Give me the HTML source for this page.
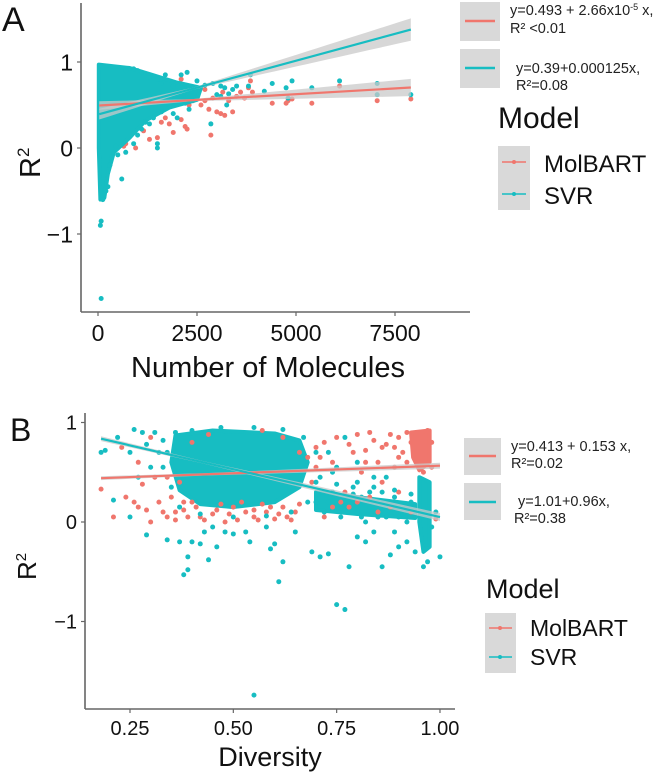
<!DOCTYPE html>
<html><head><meta charset="utf-8">
<style>
html,body{margin:0;padding:0;background:#fff;}
body{width:666px;height:779px;overflow:hidden;font-family:"Liberation Sans",sans-serif;}
svg text{font-family:"Liberation Sans",sans-serif;}
</style></head>
<body>
<svg id="chart" width="666" height="779" viewBox="0 0 666 779">
<g id="gA"></g>
<g id="gB"></g>
</svg>
<script>
const RED="#F0766D", TEAL="#17BDC2", BAND="#C9C9C9";
// ---------- Panel A data ----------
const aXTicks=[0,2500,5000,7500];
const aYTicks=[-1,0,1];
const aRedPts=[[1000,0.38],[1100,0.4],[1200,0.35],[1300,0.1],[1500,0.12],[1600,0.3],[1700,0.35],[1800,0.28],[1900,0.18],[2000,0.52],[2100,0.33],[2200,0.25],[2250,0.22],[2300,0.5],[2400,0.55],[2500,0.6],[2600,0.5],[2700,0.55],[2800,0.45],[2850,0.15],[2900,0.58],[3000,0.42],[3100,0.4],[3150,0.65],[3200,0.38],[3300,0.55],[3400,0.42],[3500,0.6],[3600,0.65],[3700,0.58],[3800,0.7],[3850,0.78],[3900,0.65],[4400,0.52],[4750,0.52],[4800,0.55],[4900,0.57],[5400,0.52],[6100,0.72],[7050,0.55],[7900,0.57],[600,0.15],[700,0.05],[800,0.2],[900,0.35],[500,0.0],[400,0.1],[1400,0.45],[2100,0.8],[2700,0.68],[1250,0.55],[1700,0.55],[2200,0.62],[1150,0.2],[650,0.02],[950,0.0]];
const aTealPts=[[600,-0.36],[80,-0.85],[60,-0.9],[80,-1.75],[1500,0.0],[1500,0.05],[1700,0.85],[2100,0.85],[2250,0.88],[2500,0.78],[2700,0.73],[2850,0.28],[2900,0.75],[3000,0.62],[3100,0.72],[3200,0.7],[3250,0.5],[3300,0.63],[3500,0.72],[3800,0.72],[3850,0.85],[4200,0.66],[4400,0.75],[4750,0.7],[4800,0.58],[4900,0.78],[5400,0.7],[6100,0.78],[7050,0.75],[7050,0.62],[7900,0.62],[1800,0.5],[1300,0.6],[2300,0.45],[350,-0.1],[250,-0.45],[150,-0.55],[120,-0.6],[1000,0.15],[1200,0.3],[1900,0.4],[2000,0.35],[2400,0.6],[1600,0.75],[900,0.92],[700,0.9],[1400,0.35],[1450,0.5],[2200,0.52],[3100,0.6],[3400,0.68],
 [1100,0.88],[1300,0.82],[1500,0.8],[1900,0.72],[2300,0.72],[900,0.05],[1100,0.22],[1300,0.28],[1600,0.42],[700,-0.05],[500,-0.08],[300,-0.2],[200,-0.5],[450,0.02],[1000,0.9]];
const aTealDense=[[20,0.97],[800,0.93],[1300,0.86],[2000,0.76],[2600,0.7],[2500,0.56],[1800,0.47],[1200,0.32],[800,0.12],[400,-0.05],[250,-0.3],[160,-0.58],[60,-0.6],[20,0]];
const aFitIntercept=[0.493,0.39];
const aFitSlope=[2.66e-5,0.000125];
const aFitRange=[30,7900];
const aBandHalf=[[0.012,0.1],[0.012,0.13]];
// ---------- Panel B data ----------
const bXTicks=[0.25,0.5,0.75,1.0];
const bXLabels=["0.25","0.50","0.75","1.00"];
const bYTicks=[-1,0,1];
const bRedPts=[[0.18,0.33],[0.21,0.05],[0.23,0.75],[0.24,0.25],[0.26,0.2],[0.27,0.15],[0.28,0.38],[0.29,0.12],[0.3,0.0],[0.31,0.45],[0.32,0.2],[0.33,0.1],[0.34,0.05],[0.3,0.85],[0.27,0.6],[0.36,0.02],[0.38,0.12],[0.4,0.2],[0.42,0.05],[0.45,0.08],[0.48,0.0],[0.5,0.15],[0.52,0.2],[0.55,0.05],[0.58,0.1],[0.6,0.03],[0.62,0.15],[0.65,0.1],[0.57,0.92],[0.62,0.85],[0.66,0.7],[0.7,0.55],[0.72,0.8],[0.74,0.6],[0.75,0.85],[0.77,0.3],[0.78,0.15],[0.8,0.88],[0.81,0.5],[0.82,0.72],[0.83,0.25],[0.84,0.82],[0.85,0.6],[0.86,0.4],[0.87,0.78],[0.88,0.88],[0.89,0.55],[0.9,0.85],[0.91,0.7],[0.92,0.9],[0.93,0.8],[0.94,0.65],[0.95,0.9],[0.95,0.75],[0.96,0.85],[0.96,0.6],[0.97,0.92],[0.97,0.7],[0.98,0.8],[0.98,0.55],[0.96,0.5],[0.94,0.88],[0.99,0.03],[0.72,0.05],[0.76,0.2],[0.85,0.1],[0.9,0.3],[0.68,0.65],[0.69,0.4],[0.44,0.88],[0.4,0.8],[0.35,0.25],[0.37,0.4],[0.55,0.12],[0.63,0.05],[0.79,0.7],[0.83,0.9],[0.89,0.75],[0.92,0.6],
 [0.36,0.1],[0.39,0.05],[0.41,0.15],[0.43,0.02],[0.46,0.12],[0.49,0.08],[0.51,0.02],[0.53,0.1],[0.56,0.02],[0.59,0.15],[0.61,0.08],[0.64,0.02],[0.38,0.2],[0.47,0.18],[0.57,0.18],[0.66,0.18],[0.34,0.45],[0.7,0.75],[0.71,0.65],[0.78,0.78],[0.82,0.6],[0.86,0.75],[0.9,0.65],[0.74,0.15],[0.8,0.2],[0.88,0.15],[0.93,0.1]];
const bTealPts=[[0.18,0.7],[0.19,0.72],[0.21,0.22],[0.22,0.85],[0.25,0.05],[0.25,0.7],[0.26,0.93],[0.28,0.9],[0.29,0.78],[0.29,-0.13],[0.3,0.55],[0.32,0.7],[0.34,-0.18],[0.37,-0.2],[0.38,-0.53],[0.39,-0.48],[0.39,-0.35],[0.4,-0.2],[0.42,-0.22],[0.43,-0.1],[0.44,-0.38],[0.45,-0.05],[0.46,-0.25],[0.48,-0.1],[0.5,-0.12],[0.53,-0.1],[0.54,-0.2],[0.55,-1.74],[0.58,-0.05],[0.59,-0.27],[0.6,-0.22],[0.61,-0.6],[0.62,-0.4],[0.65,-0.1],[0.69,-0.3],[0.71,-0.35],[0.73,-0.32],[0.75,-0.83],[0.77,-0.88],[0.78,-0.45],[0.8,-0.15],[0.82,-0.2],[0.84,-0.1],[0.86,-0.45],[0.88,-0.33],[0.89,-0.1],[0.9,-0.25],[0.92,-0.2],[0.94,-0.3],[0.96,-0.45],[0.97,-0.4],[1.0,-0.35],[0.72,0.1],[0.74,0.3],[0.75,0.55],[0.76,0.05],[0.78,0.2],[0.79,0.35],[0.8,0.1],[0.81,0.25],[0.82,0.0],[0.83,0.15],[0.84,0.35],[0.85,0.05],[0.86,0.2],[0.87,0.45],[0.88,0.1],[0.89,0.25],[0.9,0.05],[0.91,0.15],[0.92,0.0],[0.93,0.2],[0.77,0.85],[0.73,0.7],[0.8,0.6],[0.99,0.1],[0.98,-0.05],[0.7,0.2],[0.71,0.45],[0.33,0.82],[0.31,0.9],[0.27,0.45],[0.74,0.5],[0.86,0.3],
 [0.34,0.7],[0.33,0.55],[0.35,0.35],[0.37,0.15],[0.42,0.08],[0.5,0.05],[0.58,0.06],[0.64,0.1],[0.68,0.2],[0.7,0.4],[0.7,0.7],[0.67,0.85],[0.62,0.93],[0.55,0.95],[0.47,0.95],[0.4,0.92],[0.36,0.9],[0.73,0.2],[0.75,0.38],[0.77,0.12],[0.79,0.28],[0.81,0.05],[0.83,0.3],[0.85,0.2],[0.87,0.05],[0.89,0.32],[0.91,0.08],[0.93,0.28],[0.94,0.05],[0.72,0.3],[0.76,0.25],[0.8,0.4],[0.84,0.45]];
const bTealDense=[[[0.36,0.87],[0.45,0.92],[0.6,0.89],[0.66,0.82],[0.68,0.6],[0.66,0.35],[0.6,0.2],[0.5,0.15],[0.42,0.18],[0.37,0.32],[0.35,0.6]],
 [[0.95,0.45],[0.975,0.4],[0.975,-0.25],[0.96,-0.3],[0.95,0]],
 [[0.7,0.3],[0.8,0.25],[0.94,0.18],[0.94,0.04],[0.8,0.08],[0.7,0.12]]];
const bRedDense=[[0.93,0.9],[0.975,0.92],[0.975,0.6],[0.95,0.52],[0.935,0.65]];
const bFitIntercept=[0.413,1.01];
const bFitSlope=[0.153,-0.96];
const bFitRange=[0.18,1.0];
const bBandHalf=[[0.012,0.03],[0.012,0.04]];

const NS="http://www.w3.org/2000/svg";
function mk(parent,tag,attrs,name,txt){
  const el=document.createElementNS(NS,tag);
  for(const k in attrs) el.setAttribute(k,attrs[k]);
  
  
  if(txt!==undefined) el.textContent=txt;
  parent.appendChild(el); return el;
}
function drawPanel(g,o){
  const X=v=>o.x0px+(v-o.x0)*o.xk, Y=v=>o.y0px-v*o.yk;
  mk(g,'line',{x1:o.axL,y1:o.axT,x2:o.axL,y2:o.axB,stroke:'#666','stroke-width':1.6},'y-axis');
  mk(g,'line',{x1:o.axL,y1:o.axB,x2:o.axR,y2:o.axB,stroke:'#666','stroke-width':1.6},'x-axis');
  o.xt.forEach((t,i)=>{
    mk(g,'line',{x1:X(t),y1:o.axB,x2:X(t),y2:o.axB+4,stroke:'#666','stroke-width':1.2},'x-tick');
    mk(g,'text',{x:X(t),y:o.axB+o.tfs+6,'font-size':o.tfs,'text-anchor':'middle',fill:'#111'},'x-tick-label',o.xl?o.xl[i]:String(t));
  });
  o.yt.forEach(t=>{
    mk(g,'line',{x1:o.axL-4,y1:Y(t),x2:o.axL,y2:Y(t),stroke:'#666','stroke-width':1.2},'y-tick');
    mk(g,'text',{x:o.axL-8,y:Y(t)+o.tfs*0.36,'font-size':o.tfs,'text-anchor':'end',fill:'#111'},'y-tick-label',t<0?'\u2212'+Math.abs(t):String(t));
  });
  const pts=(arr,c,name)=>arr.forEach(p=>mk(g,'circle',{cx:X(p[0]),cy:Y(p[1]),r:2.5,fill:c},name));
  const poly=(arr,c,name)=>mk(g,'polygon',{points:arr.map(p=>X(p[0])+','+Y(p[1])).join(' '),fill:c,stroke:c,'stroke-width':4,'stroke-linejoin':'round'},name);
  if(!o.denseTop) o.tealDense.forEach(a=>poly(a,TEAL,'svr-dense-region'));
  pts(o.red,RED,'molbart-point');
  o.redDense.forEach(a=>poly(a,RED,'molbart-dense-region'));
  if(o.denseTop) o.tealDense.forEach(a=>poly(a,TEAL,'svr-dense-region'));
  pts(o.teal,TEAL,'svr-point');
  const xm=(o.fr[0]+o.fr[1])/2*0.6+o.fr[0]*0.4;
  [0,1].forEach(i=>{
    const f=v=>o.b0[i]+o.b1[i]*v;
    const hw=v=>o.bh[i][0]+(o.bh[i][1]-o.bh[i][0])*Math.abs(v-xm)/(o.fr[1]-xm);
    const N=30, up=[], dn=[];
    for(let k=0;k<=N;k++){const v=o.fr[0]+(o.fr[1]-o.fr[0])*k/N; up.push(X(v)+','+Y(f(v)+hw(v))); dn.unshift(X(v)+','+Y(f(v)-hw(v)));}
    mk(g,'polygon',{points:up.concat(dn).join(' '),fill:BAND,'fill-opacity':0.75},i?'svr-confidence-band':'molbart-confidence-band');
  });
  [0,1].forEach(i=>{
    const f=v=>o.b0[i]+o.b1[i]*v;
    mk(g,'line',{x1:X(o.fr[0]),y1:Y(f(o.fr[0])),x2:X(o.fr[1]),y2:Y(f(o.fr[1])),stroke:i?TEAL:RED,'stroke-width':2.2},i?'svr-fit-line':'molbart-fit-line');
  });
}
drawPanel(document.getElementById('gA'),{x0:0,x0px:98,xk:99/2500,y0px:148,yk:86,axL:81,axR:470,axT:3,axB:312,
  xt:aXTicks,yt:aYTicks,tfs:23,red:aRedPts,teal:aTealPts,redDense:[],tealDense:[aTealDense],denseTop:true,
  b0:aFitIntercept,b1:aFitSlope,fr:aFitRange,bh:aBandHalf});
drawPanel(document.getElementById('gB'),{x0:0.25,x0px:130,xk:413.3,y0px:522,yk:99.5,axL:85,axR:455,axT:413,axB:709,
  xt:bXTicks,xl:bXLabels,yt:bYTicks,tfs:20,red:bRedPts,teal:bTealPts,redDense:[bRedDense],tealDense:bTealDense,denseTop:false,
  b0:bFitIntercept,b1:bFitSlope,fr:bFitRange,bh:bBandHalf});
</script>
<svg width="666" height="779" style="position:absolute;left:0;top:0">
<text x="2" y="31" font-size="34" fill="#111">A</text>
<text x="10" y="441" font-size="32" fill="#111">B</text>
<text transform="translate(40,178) rotate(-90)" font-size="29" fill="#111">R<tspan font-size="17" dy="-11">2</tspan></text>
<text x="268" y="377" font-size="29" fill="#111" text-anchor="middle">Number of Molecules</text>
<text transform="translate(36,580) rotate(-90)" font-size="26" fill="#111">R<tspan font-size="15" dy="-10">2</tspan></text>
<text x="270" y="766" font-size="27" fill="#111" text-anchor="middle">Diversity</text>
<g>
<rect x="460" y="2" width="40" height="39" fill="#d9d9d9"/>
<line x1="465" y1="21" x2="495" y2="21" stroke="#F0766D" stroke-width="2.5"/>
<text x="510" y="15" font-size="14.5" fill="#222">y=0.493 + 2.66x10<tspan font-size="9" dy="-5">-5</tspan><tspan dy="5"> x,</tspan></text>
<text x="510" y="33" font-size="14.5" fill="#222">R² &lt;0.01</text>
<rect x="460" y="49" width="40" height="39" fill="#d9d9d9"/>
<line x1="465" y1="68" x2="495" y2="68" stroke="#17BDC2" stroke-width="2.5"/>
<text x="516" y="73" font-size="14.5" fill="#222">y=0.39+0.000125x,</text>
<text x="516" y="90" font-size="14.5" fill="#222">R²=0.08</text>
</g>
<g>
<text x="498" y="128" font-size="30" fill="#111">Model</text>
<rect x="498" y="146" width="32" height="64" fill="#d9d9d9"/>
<line x1="502" y1="162" x2="526" y2="162" stroke="#F0766D" stroke-width="1.5"/><circle cx="514" cy="162" r="2" fill="#F0766D"/>
<line x1="502" y1="194" x2="526" y2="194" stroke="#17BDC2" stroke-width="1.5"/><circle cx="514" cy="194" r="2" fill="#17BDC2"/>
<text x="544" y="172" font-size="24" fill="#111">MolBART</text>
<text x="544" y="204" font-size="24" fill="#111">SVR</text>
</g>
<g>
<rect x="464" y="438" width="37" height="37" fill="#d9d9d9"/>
<line x1="469" y1="456" x2="496" y2="456" stroke="#F0766D" stroke-width="2.5"/>
<text x="511" y="451" font-size="14.5" fill="#222">y=0.413 + 0.153 x,</text>
<text x="511" y="468" font-size="14.5" fill="#222">R²=0.02</text>
<rect x="464" y="483" width="37" height="37" fill="#d9d9d9"/>
<line x1="469" y1="502" x2="496" y2="502" stroke="#17BDC2" stroke-width="2.5"/>
<text x="518" y="506" font-size="14.5" fill="#222">y=1.01+0.96x,</text>
<text x="514" y="523" font-size="14.5" fill="#222">R²=0.38</text>
</g>
<g>
<text x="486" y="598" font-size="27" fill="#111">Model</text>
<rect x="485" y="613" width="31" height="60" fill="#d9d9d9"/>
<line x1="489" y1="628" x2="512" y2="628" stroke="#F0766D" stroke-width="1.5"/><circle cx="500" cy="628" r="2" fill="#F0766D"/>
<line x1="489" y1="657" x2="512" y2="657" stroke="#17BDC2" stroke-width="1.5"/><circle cx="500" cy="657" r="2" fill="#17BDC2"/>
<text x="530" y="636" font-size="23" fill="#111">MolBART</text>
<text x="530" y="665" font-size="23" fill="#111">SVR</text>
</g>
</svg>
</body></html>
